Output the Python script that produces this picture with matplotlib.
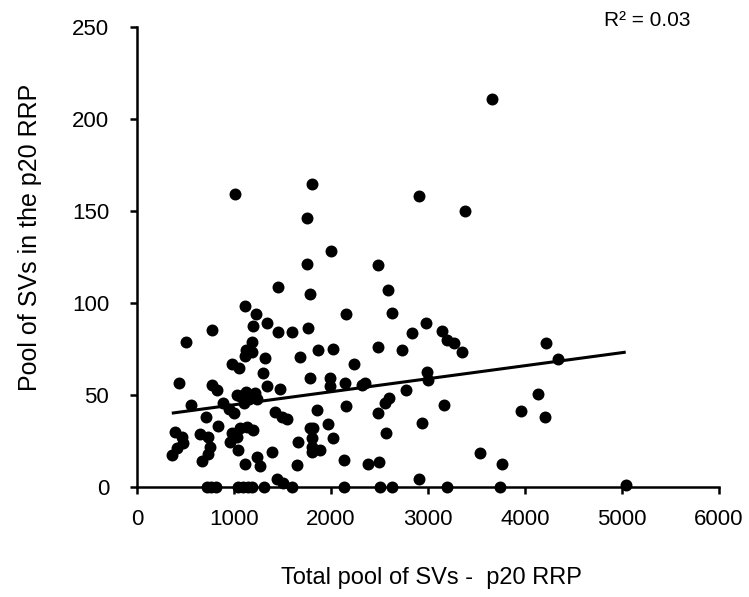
import numpy as np
import matplotlib
matplotlib.use("Agg")
import matplotlib.pyplot as plt

# Total pool of SVs (x) and pool of SVs in the RRP (y) for each p20 synapse
total_pool = [
    358, 409, 477, 461, 392, 436, 505, 552, 649, 735, 753, 735, 667, 706,
    770, 770, 822, 838, 890, 948, 1000, 976, 1048, 1010, 1113, 1230, 1337,
    1199, 1182, 1124, 1113, 1182, 1320, 1302, 1340, 1474, 1028, 1062, 1124,
    1216, 1155, 1103, 1237, 976, 1062, 1131, 1028, 959, 1044, 1113, 1232,
    1268, 1191, 1389, 1423, 1492, 1543, 1440, 1508, 1457, 1595, 1457, 1644,
    1663, 1680, 1749, 1749, 1801, 1783, 1766, 1783, 1801, 1807, 1801, 1887,
    1783, 1817, 1853, 1863, 1969, 1990, 1990, 2017, 2015, 2000, 2139, 2149,
    2137, 2155, 2240, 2316, 2350, 2378, 2498, 2481, 2481, 2481, 2567, 2601,
    2557, 2584, 2632, 2735, 2770, 2838, 2907, 2935, 2976, 2986, 3003, 2907,
    3147, 3193, 3268, 3354, 3165, 3381, 3536, 3760, 3657, 3959, 4131, 4206,
    4220, 4337, 5038,
    716, 763, 814, 1036, 1088, 1139, 1186, 1309, 1598, 2129, 2500, 2632,
    3193, 3742,
]
rrp_pool = [
    17.4, 21.0, 23.8, 27.3, 30.1, 56.4, 79.0, 44.6, 28.6, 27.3, 21.7, 17.9,
    14.4, 38.2, 85.3, 55.7, 53.0, 33.2, 45.5, 42.4, 40.5, 66.7, 64.8, 159.2,
    98.5, 93.9, 89.4, 87.3, 79.0, 74.5, 71.2, 73.5, 70.4, 62.2, 54.9, 53.3,
    50.0, 49.5, 51.6, 51.1, 47.8, 45.7, 47.8, 29.2, 31.9, 32.8, 27.3, 24.6,
    20.1, 12.8, 16.5, 11.7, 31.3, 19.2, 40.9, 38.2, 37.2, 4.6, 2.0, 108.9,
    84.4, 84.4, 12.0, 24.6, 70.5, 121.0, 146.4, 164.8, 104.9, 86.3, 59.4,
    26.5, 21.9, 19.2, 20.1, 32.2, 32.1, 41.7, 74.5, 34.1, 59.2, 55.2, 75.0,
    26.6, 128.4, 56.5, 44.3, 14.5, 94.0, 66.7, 55.4, 56.4, 12.5, 13.4, 40.4,
    75.9, 120.7, 29.2, 48.2, 45.8, 107.1, 94.7, 74.5, 52.7, 83.5, 158.3,
    34.9, 89.3, 62.3, 58.2, 4.2, 84.8, 79.9, 78.1, 73.4, 44.4, 150.0, 18.3,
    12.5, 210.9, 41.5, 50.7, 37.9, 78.1, 69.6, 1.1,
    0, 0, 0, 0, 0, 0, 0, 0, 0, 0, 0, 0, 0, 0,
]

x_ticks = [0, 1000, 2000, 3000, 4000, 5000, 6000]
y_ticks = [0, 50, 100, 150, 200, 250]
r2_label = "R² = 0.03"

plt.rcParams["font.family"] = ["Liberation Sans", "DejaVu Sans"]

fig = plt.figure(figsize=(7.49, 5.97), dpi=100)
ax = fig.add_axes([0.183, 0.184, 0.777, 0.771])

x = np.array(total_pool, dtype=float)
y = np.array(rrp_pool, dtype=float)

ax.scatter(x, y, s=74, color="black", zorder=3, clip_on=False, linewidths=0)

# Linear trend line over the range of the data
slope, intercept = np.polyfit(x, y, 1)
xl = np.array([x.min(), x.max()])
ax.plot(xl, slope * xl + intercept, color="black", lw=2.2, zorder=2,
        solid_capstyle="butt")

ax.set_xlim(0, 6000)
ax.set_ylim(0, 250)
ax.set_xticks(x_ticks)
ax.set_yticks(y_ticks)
ax.tick_params(axis="both", direction="out", length=5, width=1.8,
               color="black")
ax.tick_params(axis="x", labelsize=16, pad=11)
ax.tick_params(axis="y", labelsize=16, pad=15)

for side in ("top", "right"):
    ax.spines[side].set_visible(False)
for side in ("left", "bottom"):
    ax.spines[side].set_linewidth(1.8)

fig.text(0.576, 0.032, "Total pool of SVs -  p20 RRP", fontsize=17,
         ha="center", va="center")
fig.text(0.040, 0.602, "Pool of SVs in the p20 RRP", fontsize=18,
         ha="center", va="center", rotation=90)

fig.text(0.864, 0.965, r2_label, fontsize=15, ha="center", va="center")

fig.savefig("out.png", dpi=100)
